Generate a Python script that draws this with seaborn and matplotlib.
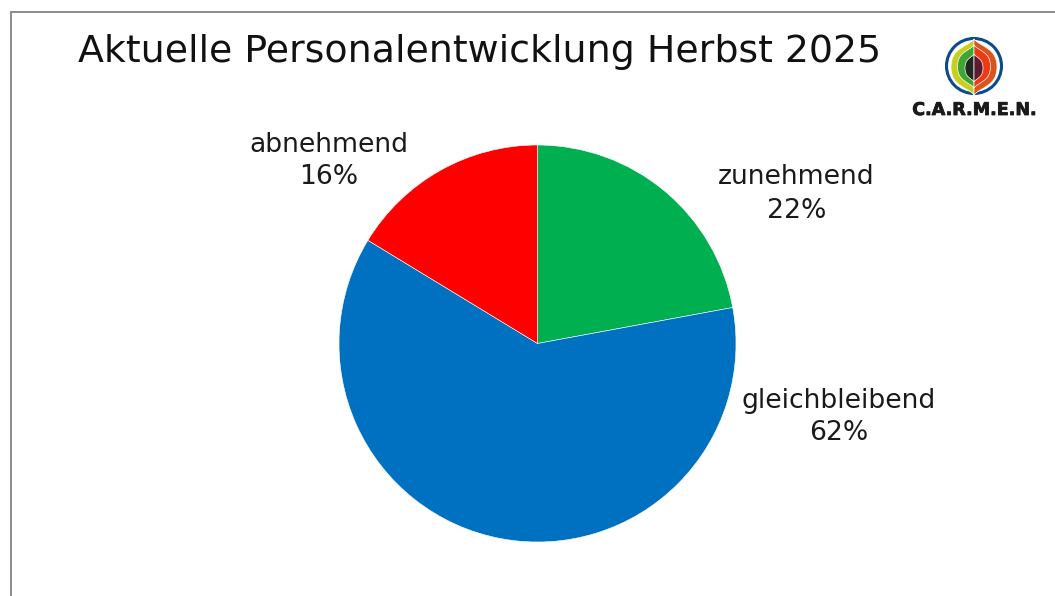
import matplotlib
matplotlib.use("Agg")
import matplotlib.pyplot as plt
import matplotlib.patheffects as pe
from matplotlib.patches import Circle, PathPatch
from matplotlib.path import Path
import seaborn as sns

TITLE = "Aktuelle Personalentwicklung Herbst 2025"
categories = ["zunehmend", "gleichbleibend", "abnehmend"]
shares = [22.1, 61.6, 16.3]
slice_colors = ["#00B050", "#0070C0", "#FF0000"]
label_centers_px = [(796.5, 194), (838.5, 417), (329, 161)]

W, H = 1055, 596
FONT = ["DejaVu Sans"]

sns.set_theme(style="white")
plt.rcParams["font.family"] = FONT

fig = plt.figure(figsize=(W / 100, H / 100), dpi=100, facecolor="white")

# full-figure pixel overlay for frame and logo
over = fig.add_axes([0, 0, 1, 1], zorder=3)
over.set_xlim(0, W)
over.set_ylim(H, 0)
over.axis("off")
over.patch.set_alpha(0)
over.plot([10.5, 10.5, W], [H, 11.5, 11.5], color="#8c8c8c", lw=1.4, solid_joinstyle="miter")

# pie
cx, cy, r = 537.5, 343.5, 198.5
ax = fig.add_axes([(cx - r) / W, 1 - (cy + r) / H, 2 * r / W, 2 * r / H])
ax.pie(shares, colors=slice_colors, startangle=90, counterclock=False, radius=1,
       wedgeprops={"edgecolor": "white", "linewidth": 0.4})
ax.set_xlim(-1, 1)
ax.set_ylim(-1, 1)
ax.axis("off")

for name, val, (x, y) in zip(categories, shares, label_centers_px):
    over.text(x, y, f"{name}\n{round(val)}%", ha="center", va="center", fontsize=19.2,
              color="#1a1a1a", linespacing=1.35)

over.text(78, 52, TITLE, ha="left", va="center", fontsize=27.3, color="#111111")

# logo
def half_leaf(c, top, bot, w, side, color, z):
    mid = (top + bot) / 2
    verts = [(c, top),
             (c + side * w * 0.3, top + (mid - top) * 0.3), (c + side * w, top + (mid - top) * 0.3), (c + side * w, mid),
             (c + side * w, bot - (bot - mid) * 0.3), (c + side * w * 0.3, bot - (bot - mid) * 0.3), (c, bot),
             (c, top)]
    codes = [Path.MOVETO] + [Path.CURVE4] * 6 + [Path.CLOSEPOLY]
    over.add_patch(PathPatch(Path(verts, codes), fc=color, ec="white", lw=0.5, zorder=z))

lx, ly = 974, 66
over.add_patch(Circle((lx, ly), 27.5, fc="white", ec="#0B4A8F", lw=2.2, zorder=4))
half_leaf(lx, 39, 95, 23, -1, "#C9CF1E", 5)
half_leaf(lx, 39, 95, 23, 1, "#D9541E", 5)
half_leaf(lx, 45, 88, 16.5, -1, "#3FA535", 6)
half_leaf(lx, 45, 88, 16.5, 1, "#EE3A12", 6)
half_leaf(lx, 54, 82, 9, -1, "#1F2A1C", 7)
half_leaf(lx, 54, 82, 9, 1, "#5A1A30", 7)
over.text(974.5, 110, "C.A.R.M.E.N.", ha="center", va="center", fontsize=12.6,
          fontweight="bold", color="#1a1a1a", zorder=8,
          path_effects=[pe.withStroke(linewidth=0.6, foreground="#1a1a1a")])

fig.savefig("out.png", dpi=100, facecolor="white")
